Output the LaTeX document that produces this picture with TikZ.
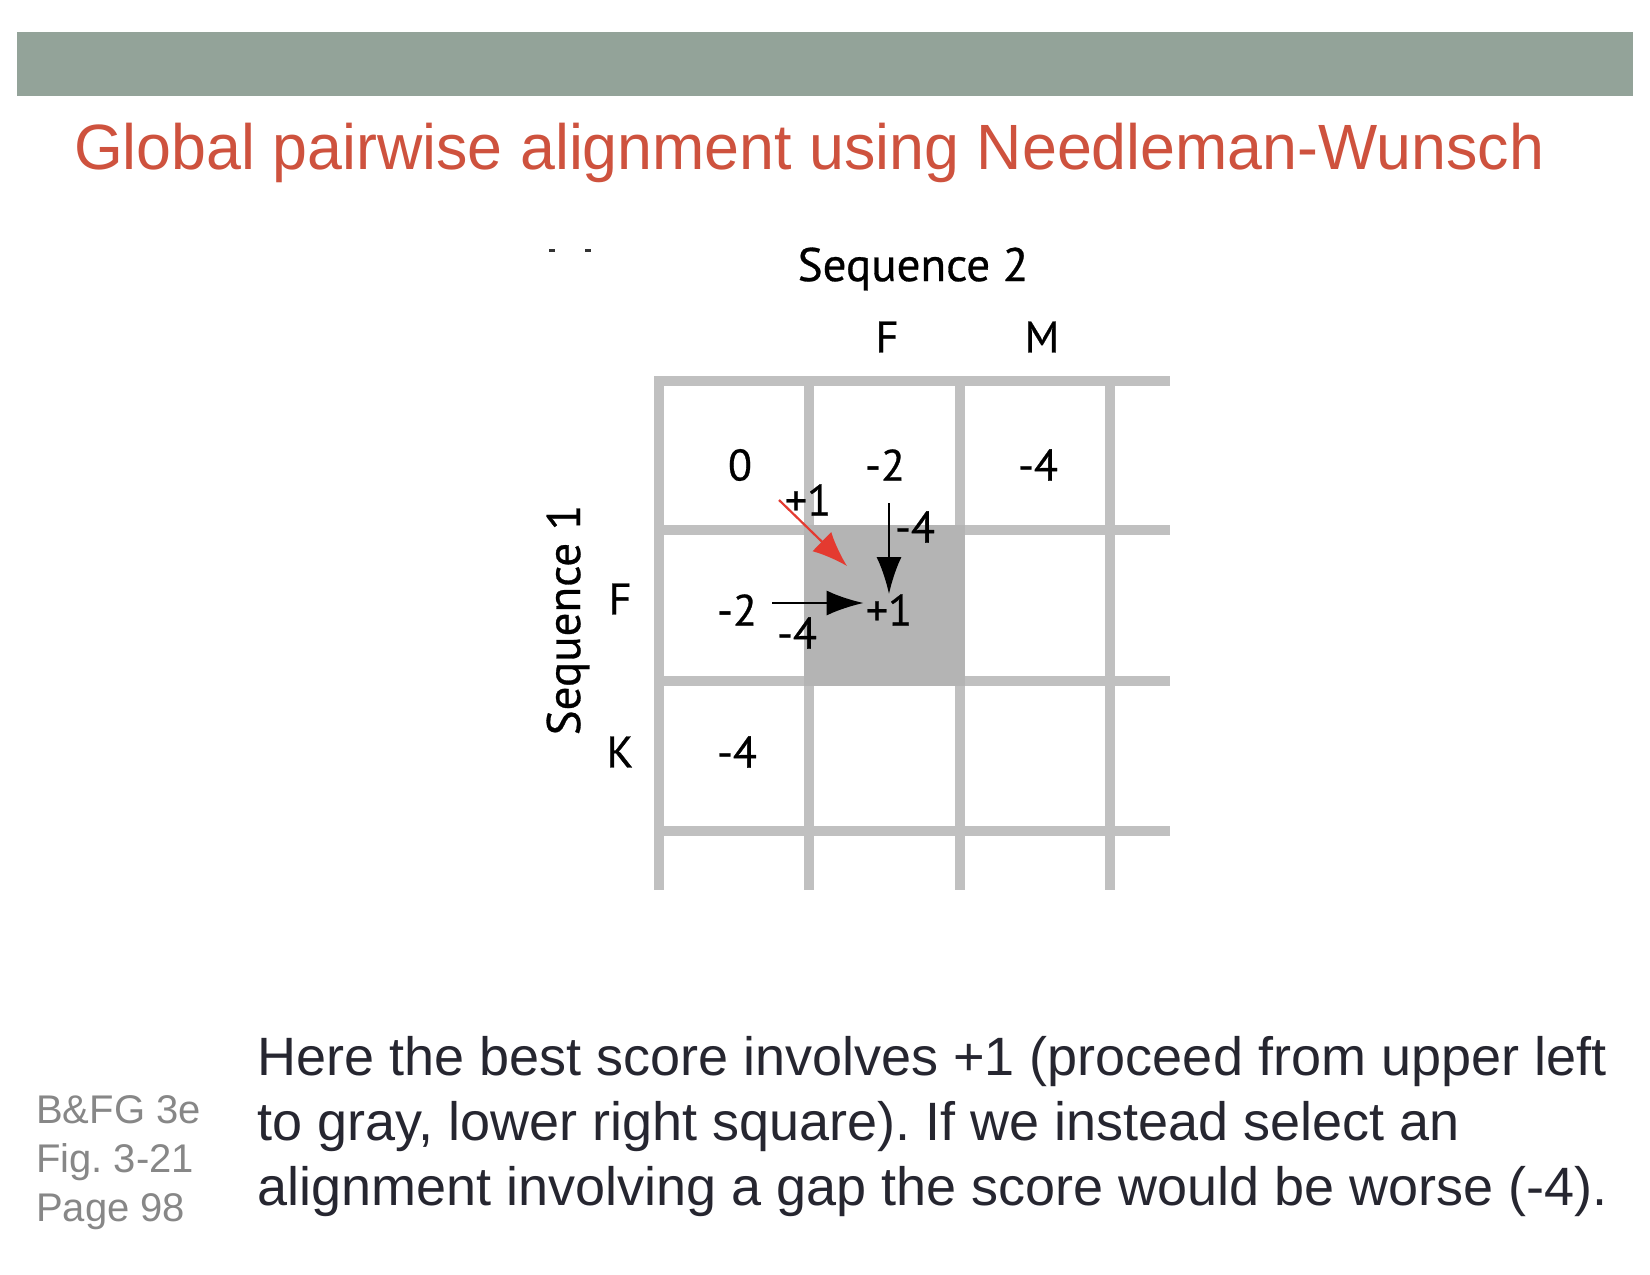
\documentclass[tikz,border=0pt]{standalone}
\usepackage{fontspec}
\setmainfont{Liberation Sans}
\newfontfamily\titlefont[FakeStretch=0.98]{Liberation Sans}
\newfontfamily\figfont[FakeBold=0.6]{PT Sans}
\usetikzlibrary{arrows.meta}
\frenchspacing

\definecolor{barcol}{RGB}{147,163,153}
\definecolor{titlecol}{RGB}{206,82,62}
\definecolor{gridcol}{RGB}{192,192,192}
\definecolor{cellcol}{RGB}{180,180,180}
\definecolor{bodycol}{RGB}{38,38,48}
\definecolor{notecol}{RGB}{135,135,135}
\definecolor{redarrow}{RGB}{228,58,48}

\begin{document}
\begin{tikzpicture}[x=1pt, y=-1pt, >=Latex,
    val/.style={font=\figfont\fontsize{44}{48}\selectfont, inner sep=0pt},
    seqlab/.style={font=\figfont\fontsize{47}{52}\selectfont, inner sep=0pt},
    gridline/.style={draw=gridcol, line width=10.5pt},
    move/.style={line width=2.7pt, arrows={-Latex[length=37pt, width=25pt]}}]
    \useasboundingbox[fill=white] (0,0) rectangle (1650,1275);

    % header bar and title
    \fill[barcol] (17,32) rectangle (1633,96);
    \node[anchor=base west, inner sep=0pt, text=titlecol, font=\titlefont\fontsize{64}{77}\selectfont] (title) at (74,169) {Global pairwise alignment using Needleman-Wunsch};
    \fill[black!80] (549,249) rectangle (555,252);
    \fill[black!80] (585,249) rectangle (591,252);

    % scoring matrix
    \foreach \x in {659,809,960,1110}
        \draw[gridline] (\x,376) -- (\x,890);
    \foreach \y in {381,530,681,831}
        \draw[gridline] (654,\y) -- (1170,\y);
    \fill[cellcol] (804,525) rectangle (965,686);

    \node[seqlab] (seqtwo) at (913,269) {Sequence 2};
    \node[seqlab, rotate=90] (seqone) at (568,620) {Sequence 1};
    \node[val] (colF) at (887,337) {F};
    \node[val] (colM) at (1042,337) {M};
    \node[val] (rowF) at (620,599) {F};
    \node[val] (rowK) at (620,752) {K};

    \node[val] (zero) at (740,465) {0};
    \node[val] (top2) at (885,465) {-2};
    \node[val] (top4) at (1038,465) {-4};
    \node[val] (left2) at (737,610) {-2};
    \node[val] (left4) at (737,752) {-4};
    \node[val] (best) at (889,610) {+1};

    \coordinate (downstart) at (889,503);
    \coordinate (rightstart) at (772,603);
    \coordinate (diagstart) at (779,500);
    \coordinate (diagend) at (847,566);

    \draw[move] (downstart) -- (best.north -| downstart);
    \draw[move] (rightstart) -- ([xshift=-2pt]rightstart -| best.west);
    \draw[draw=redarrow, fill=redarrow, line width=2.2pt, arrows={-Latex[length=35pt, width=27pt]}] (diagstart) -- (diagend);

    \node[val] (diaglab) at (808,500) {+1};
    \node[val] (downlab) at (915,527) {-4};
    \node[val] (rightlab) at (797,633) {-4};

    % caption and source
    \node[anchor=base west, inner sep=0pt, align=left, text=bodycol, font=\fontsize{54}{65}\selectfont] (body) at (257,1205) {Here the best score involves +1 (proceed from upper left\\to gray, lower right square). If we instead select an\\alignment involving a gap the score would be worse (-4).};
    \node[anchor=base west, inner sep=0pt, align=left, text=notecol, font=\fontsize{40}{49}\selectfont] (source) at (36,1221) {B\&FG 3e\\Fig. 3-21\\Page 98};
\end{tikzpicture}
\end{document}
